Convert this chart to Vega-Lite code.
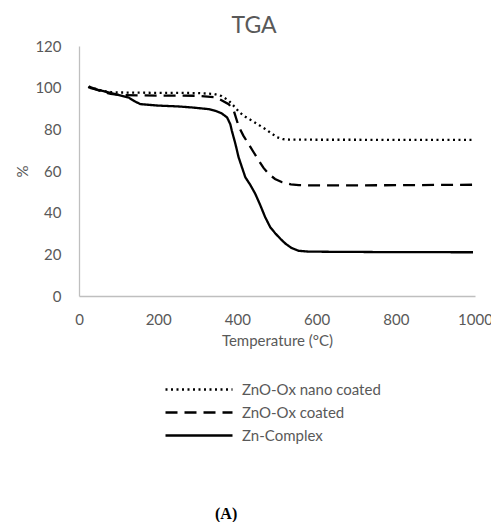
{
  "$schema": "https://vega.github.io/schema/vega-lite/v6.json",
  "background": "white",
  "padding": {"left": 15, "top": 15, "right": 0, "bottom": 0},
  "title": {"text": "(A)", "orient": "bottom", "anchor": "middle", "font": "Liberation Serif", "fontSize": 16, "fontWeight": "bold", "color": "black", "offset": 62, "dx": -28},
  "config": {
    "view": {"stroke": null},
    "font": "Lato"
  },
  "vconcat": [
    {
      "width": 396,
      "height": 250,
      "title": {"text": "TGA", "font": "Lato", "fontSize": 23, "fontWeight": "normal", "color": "#595959", "offset": 1, "frame": "bounds", "anchor": "middle"},
      "data": {"values": [
        {"T": 25, "v": 100.5, "s": "ZnO-Ox nano coated"},
        {"T": 40, "v": 99.6, "s": "ZnO-Ox nano coated"},
        {"T": 60, "v": 98.4, "s": "ZnO-Ox nano coated"},
        {"T": 80, "v": 97.9, "s": "ZnO-Ox nano coated"},
        {"T": 100, "v": 97.7, "s": "ZnO-Ox nano coated"},
        {"T": 150, "v": 97.6, "s": "ZnO-Ox nano coated"},
        {"T": 200, "v": 97.5, "s": "ZnO-Ox nano coated"},
        {"T": 250, "v": 97.5, "s": "ZnO-Ox nano coated"},
        {"T": 300, "v": 97.4, "s": "ZnO-Ox nano coated"},
        {"T": 340, "v": 97.0, "s": "ZnO-Ox nano coated"},
        {"T": 360, "v": 96.0, "s": "ZnO-Ox nano coated"},
        {"T": 378, "v": 93.8, "s": "ZnO-Ox nano coated"},
        {"T": 392, "v": 91.0, "s": "ZnO-Ox nano coated"},
        {"T": 405, "v": 88.2, "s": "ZnO-Ox nano coated"},
        {"T": 420, "v": 86.0, "s": "ZnO-Ox nano coated"},
        {"T": 437, "v": 84.1, "s": "ZnO-Ox nano coated"},
        {"T": 455, "v": 82.0, "s": "ZnO-Ox nano coated"},
        {"T": 470, "v": 80.2, "s": "ZnO-Ox nano coated"},
        {"T": 485, "v": 78.2, "s": "ZnO-Ox nano coated"},
        {"T": 500, "v": 76.2, "s": "ZnO-Ox nano coated"},
        {"T": 515, "v": 75.3, "s": "ZnO-Ox nano coated"},
        {"T": 530, "v": 75.1, "s": "ZnO-Ox nano coated"},
        {"T": 600, "v": 75.0, "s": "ZnO-Ox nano coated"},
        {"T": 700, "v": 75.0, "s": "ZnO-Ox nano coated"},
        {"T": 800, "v": 74.9, "s": "ZnO-Ox nano coated"},
        {"T": 900, "v": 74.9, "s": "ZnO-Ox nano coated"},
        {"T": 1000, "v": 74.9, "s": "ZnO-Ox nano coated"},
        {"T": 25, "v": 100.5, "s": "ZnO-Ox coated"},
        {"T": 40, "v": 99.4, "s": "ZnO-Ox coated"},
        {"T": 60, "v": 98.0, "s": "ZnO-Ox coated"},
        {"T": 80, "v": 97.0, "s": "ZnO-Ox coated"},
        {"T": 100, "v": 96.5, "s": "ZnO-Ox coated"},
        {"T": 150, "v": 96.3, "s": "ZnO-Ox coated"},
        {"T": 200, "v": 96.2, "s": "ZnO-Ox coated"},
        {"T": 250, "v": 96.2, "s": "ZnO-Ox coated"},
        {"T": 300, "v": 96.1, "s": "ZnO-Ox coated"},
        {"T": 340, "v": 95.5, "s": "ZnO-Ox coated"},
        {"T": 355, "v": 94.5, "s": "ZnO-Ox coated"},
        {"T": 378, "v": 92.1, "s": "ZnO-Ox coated"},
        {"T": 391, "v": 88.9, "s": "ZnO-Ox coated"},
        {"T": 403, "v": 81.5, "s": "ZnO-Ox coated"},
        {"T": 415, "v": 77.0, "s": "ZnO-Ox coated"},
        {"T": 428, "v": 73.0, "s": "ZnO-Ox coated"},
        {"T": 441, "v": 69.0, "s": "ZnO-Ox coated"},
        {"T": 454, "v": 65.0, "s": "ZnO-Ox coated"},
        {"T": 466, "v": 61.5, "s": "ZnO-Ox coated"},
        {"T": 479, "v": 58.6, "s": "ZnO-Ox coated"},
        {"T": 495, "v": 56.2, "s": "ZnO-Ox coated"},
        {"T": 513, "v": 54.6, "s": "ZnO-Ox coated"},
        {"T": 535, "v": 53.6, "s": "ZnO-Ox coated"},
        {"T": 555, "v": 53.2, "s": "ZnO-Ox coated"},
        {"T": 600, "v": 53.1, "s": "ZnO-Ox coated"},
        {"T": 700, "v": 53.1, "s": "ZnO-Ox coated"},
        {"T": 800, "v": 53.2, "s": "ZnO-Ox coated"},
        {"T": 900, "v": 53.3, "s": "ZnO-Ox coated"},
        {"T": 1000, "v": 53.4, "s": "ZnO-Ox coated"},
        {"T": 23, "v": 100.3, "s": "Zn-Complex"},
        {"T": 33, "v": 99.6, "s": "Zn-Complex"},
        {"T": 58, "v": 98.5, "s": "Zn-Complex"},
        {"T": 90, "v": 97.0, "s": "Zn-Complex"},
        {"T": 125, "v": 95.3, "s": "Zn-Complex"},
        {"T": 140, "v": 93.5, "s": "Zn-Complex"},
        {"T": 155, "v": 92.1, "s": "Zn-Complex"},
        {"T": 200, "v": 91.4, "s": "Zn-Complex"},
        {"T": 250, "v": 91.0, "s": "Zn-Complex"},
        {"T": 285, "v": 90.5, "s": "Zn-Complex"},
        {"T": 327, "v": 89.7, "s": "Zn-Complex"},
        {"T": 344, "v": 88.9, "s": "Zn-Complex"},
        {"T": 360, "v": 87.7, "s": "Zn-Complex"},
        {"T": 374, "v": 85.7, "s": "Zn-Complex"},
        {"T": 382, "v": 82.5, "s": "Zn-Complex"},
        {"T": 386, "v": 79.3, "s": "Zn-Complex"},
        {"T": 395, "v": 73.0, "s": "Zn-Complex"},
        {"T": 403, "v": 66.6, "s": "Zn-Complex"},
        {"T": 412, "v": 61.5, "s": "Zn-Complex"},
        {"T": 420, "v": 57.0, "s": "Zn-Complex"},
        {"T": 432, "v": 53.5, "s": "Zn-Complex"},
        {"T": 445, "v": 49.1, "s": "Zn-Complex"},
        {"T": 458, "v": 43.5, "s": "Zn-Complex"},
        {"T": 470, "v": 37.9, "s": "Zn-Complex"},
        {"T": 483, "v": 33.0, "s": "Zn-Complex"},
        {"T": 496, "v": 30.0, "s": "Zn-Complex"},
        {"T": 510, "v": 27.2, "s": "Zn-Complex"},
        {"T": 521, "v": 25.2, "s": "Zn-Complex"},
        {"T": 537, "v": 23.0, "s": "Zn-Complex"},
        {"T": 555, "v": 21.7, "s": "Zn-Complex"},
        {"T": 580, "v": 21.3, "s": "Zn-Complex"},
        {"T": 650, "v": 21.2, "s": "Zn-Complex"},
        {"T": 750, "v": 21.1, "s": "Zn-Complex"},
        {"T": 850, "v": 21.1, "s": "Zn-Complex"},
        {"T": 950, "v": 21.0, "s": "Zn-Complex"},
        {"T": 995, "v": 21.0, "s": "Zn-Complex"}
      ]},
      "mark": {"type": "line", "color": "black", "strokeWidth": 2.3},
      "encoding": {
        "x": {
          "field": "T", "type": "quantitative",
          "scale": {"domain": [0, 1000], "nice": false},
          "axis": {
            "values": [0, 200, 400, 600, 800, 1000],
            "format": "d",
            "title": "Temperature (°C)",
            "grid": false, "ticks": false,
            "domainColor": "#bfbfbf", "domainWidth": 1.3,
            "labelColor": "#595959", "labelFont": "Lato", "labelFontSize": 15, "labelPadding": 16,
            "labelFlush": false, "labelOverlap": false,
            "titleColor": "#595959", "titleFont": "Lato", "titleFontSize": 15, "titleFontWeight": "normal", "titlePadding": 6
          }
        },
        "y": {
          "field": "v", "type": "quantitative",
          "scale": {"domain": [0, 120], "nice": false},
          "axis": {
            "values": [0, 20, 40, 60, 80, 100, 120],
            "title": "%",
            "grid": false, "ticks": false,
            "domainColor": "#bfbfbf", "domainWidth": 1.3,
            "labelColor": "#595959", "labelFont": "Lato", "labelFontSize": 15, "labelPadding": 18,
            "labelFlush": false,
            "titleColor": "#595959", "titleFont": "Lato", "titleFontSize": 15, "titleFontWeight": "normal", "titlePadding": 4
          }
        },
        "strokeDash": {
          "field": "s", "type": "nominal",
          "scale": {"domain": ["ZnO-Ox nano coated", "ZnO-Ox coated", "Zn-Complex"], "range": [[2, 3.5], [12, 7], [1, 0]]},
          "legend": {
            "orient": "none", "legendX": 85, "legendY": 336,
            "title": null,
            "symbolType": "stroke", "symbolSize": 4489, "symbolStrokeColor": "black", "symbolStrokeWidth": 2.3,
            "clipHeight": 15, "rowPadding": 7, "labelOffset": 8,
            "labelColor": "#595959", "labelFont": "Lato", "labelFontSize": 15
          }
        }
      }
    }
  ]
}
